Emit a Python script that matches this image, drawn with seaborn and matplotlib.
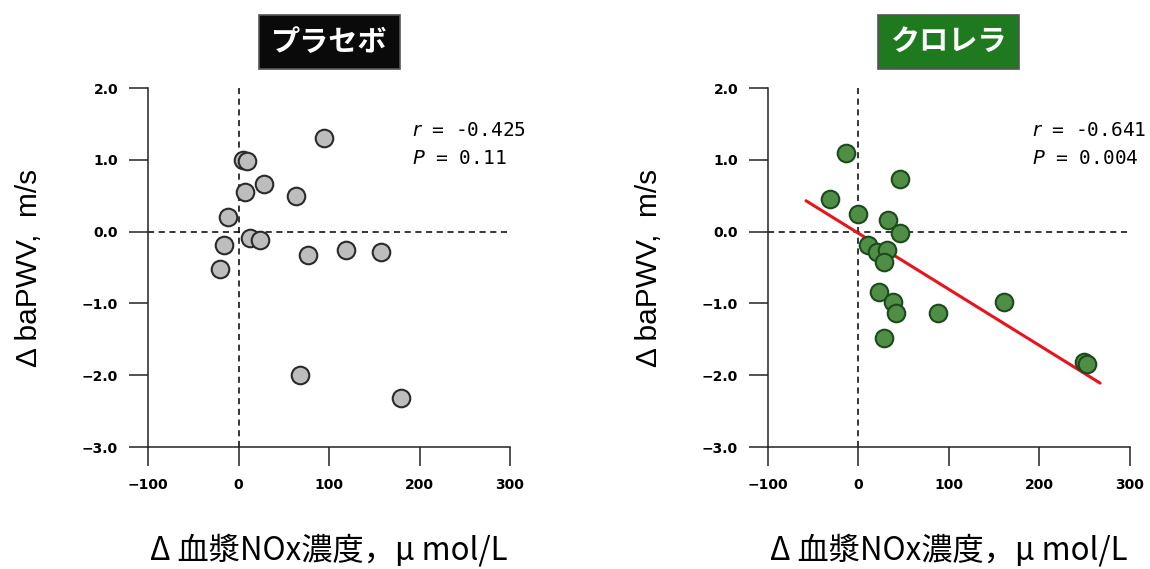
import matplotlib
matplotlib.use("Agg")
import matplotlib.pyplot as plt
import pandas as pd
import seaborn as sns

# Data
placebo_x = [94, 5, 9, 28, 7, 63, -12, 13, 24, -16, -21, 77, 119, 157, 68, 180]
placebo_y = [1.30, 1.00, 0.99, 0.66, 0.55, 0.50, 0.21, -0.09, -0.12, -0.19,
             -0.52, -0.33, -0.26, -0.28, -2.00, -2.32]
chlorella_x = [-14, -31, 46, 0, 33, 46, 10, 20, 32, 28, 23, 38, 42, 88, 28,
               161, 249, 252]
chlorella_y = [1.10, 0.45, 0.73, 0.24, 0.16, -0.02, -0.19, -0.28, -0.26, -0.43,
               -0.84, -0.98, -1.14, -1.14, -1.48, -0.98, -1.81, -1.84]
fit_x = [-58, 267]
fit_y = [0.43, -2.11]

panels = [
    {"title": "プラセボ", "x": placebo_x, "y": placebo_y,
     "stats": ["-0.425", "0.11"], "face": "#bdbdbd", "edge": "#2a2a2a",
     "box": "#0a0a0a", "fit": False},
    {"title": "クロレラ", "x": chlorella_x, "y": chlorella_y,
     "stats": ["-0.641", "0.004"], "face": "#4f8f45", "edge": "#1c4a1c",
     "box": "#1f7a1f", "fit": True},
]

x_ticks = [-100, 0, 100, 200, 300]
y_ticks = [2.0, 1.0, 0.0, -1.0, -2.0, -3.0]
x_label = "Δ 血漿NOx濃度，μ mol/L"
y_label = "Δ baPWV,  m/s"

sns.set_theme(style="ticks")
plt.rcParams["font.family"] = ["DejaVu Sans", "Noto Sans CJK JP"]
plt.rcParams.update({
    "text.color": "black",
    "axes.labelcolor": "black",
    "xtick.color": "black",
    "ytick.color": "black",
})

fig = plt.figure(figsize=(11.5, 5.69), dpi=100)
lefts = [0.1287, 0.6678]

for left, p in zip(lefts, panels):
    ax = fig.add_axes([left, 0.2144, 0.3148, 0.6309])
    df = pd.DataFrame({"x": p["x"], "y": p["y"]})

    ax.axvline(0, color="black", lw=1.1, ls=(0, (4, 3)), zorder=1)
    ax.axhline(0, color="black", lw=1.1, ls=(0, (4, 3)), zorder=1)

    if p["fit"]:
        sns.lineplot(x=fit_x, y=fit_y, ax=ax, color="#e8141c", lw=2.2, zorder=2)

    sns.scatterplot(data=df, x="x", y="y", ax=ax, s=160, color=p["face"],
                    edgecolor=p["edge"], linewidth=1.5, zorder=3)

    ax.set_xlim(-100, 300)
    ax.set_ylim(-3.0, 2.0)
    ax.set_xticks(x_ticks)
    ax.set_yticks(y_ticks)
    ax.set_xticklabels([str(t).replace("-", "−") for t in x_ticks])
    ax.set_yticklabels([f"{t:.1f}".replace("-", "−") for t in y_ticks])
    for lab in ax.get_xticklabels() + ax.get_yticklabels():
        lab.set_fontweight("bold")
        lab.set_fontsize(10)
    ax.tick_params(axis="both", direction="out", length=13.5, width=1.1,
                   color="#222222")
    ax.tick_params(axis="x", pad=9)
    ax.tick_params(axis="y", pad=8)
    for side in ["top", "right"]:
        ax.spines[side].set_visible(False)
    for side in ["left", "bottom"]:
        ax.spines[side].set_linewidth(1.1)
        ax.spines[side].set_color("#222222")

    ax.set_xlabel(x_label, fontsize=22.5, family=["Noto Sans CJK JP"], va="center")
    ax.xaxis.set_label_coords(0.5, -0.287)
    ax.set_ylabel(y_label, fontsize=21.5, family=["Liberation Sans", "Noto Sans CJK JP"],
                  va="center")
    ax.yaxis.set_label_coords(-0.33, 0.5)

    ax.text(0.729, 0.883, "$r$ = " + p["stats"][0], transform=ax.transAxes,
            family="DejaVu Sans Mono", fontsize=14, va="center", ha="left")
    ax.text(0.729, 0.805, "$P$ = " + p["stats"][1], transform=ax.transAxes,
            family="DejaVu Sans Mono", fontsize=14, va="center", ha="left")

    ax.text(0.5, 1.128, p["title"], transform=ax.transAxes, ha="center",
            va="center", color="white", fontsize=21, fontweight="bold",
            family=["Noto Sans CJK JP"],
            bbox=dict(boxstyle="square,pad=0.42", facecolor=p["box"],
                      edgecolor="#555555", linewidth=1.2))

fig.savefig("out.png", dpi=100)
plt.close(fig)
